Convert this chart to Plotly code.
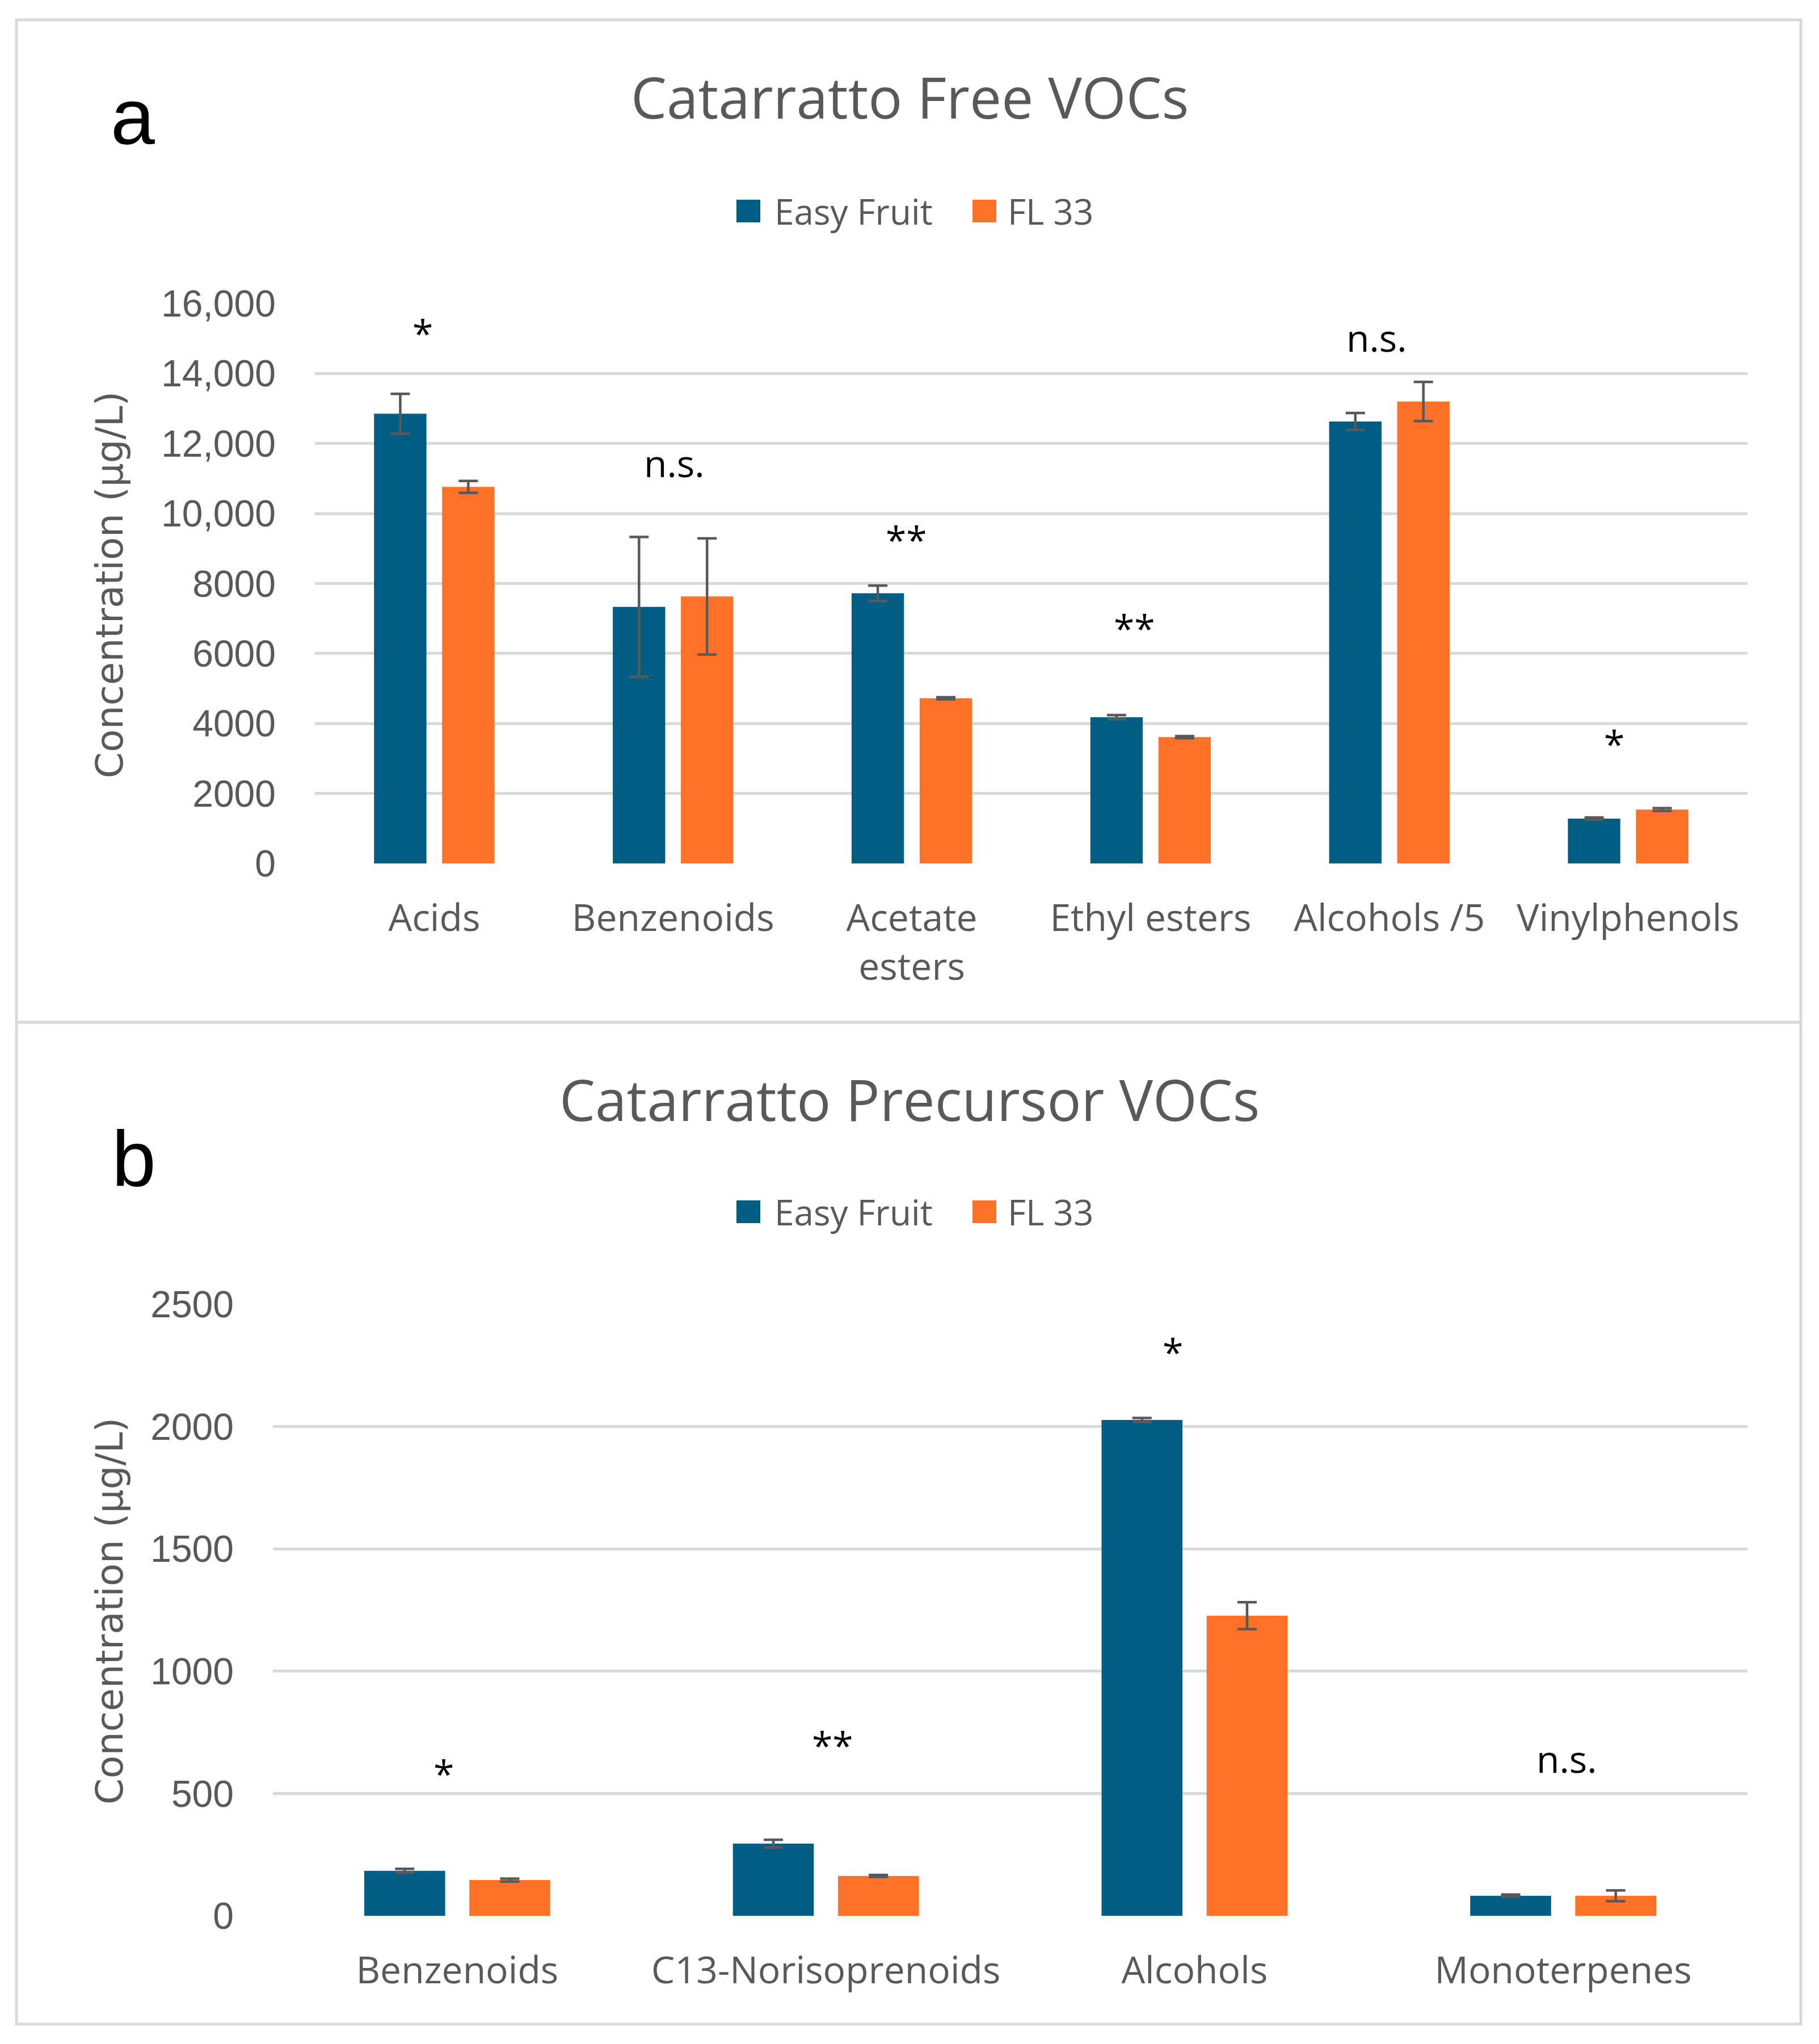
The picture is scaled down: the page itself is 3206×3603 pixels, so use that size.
import plotly.graph_objects as go

# ---------------- data ----------------
free_categories = ["Acids", "Benzenoids", "Acetate esters", "Ethyl esters", "Alcohols /5", "Vinylphenols"]
free_ticktext = ["Acids", "Benzenoids", "Acetate<br>esters", "Ethyl esters", "Alcohols /5", "Vinylphenols"]
free_easy = [12850, 7330, 7720, 4180, 12630, 1280]
free_easy_err = [570, 2000, 220, 60, 240, 35]
free_fl33 = [10760, 7630, 4720, 3610, 13200, 1540]
free_fl33_err = [170, 1660, 30, 30, 560, 40]
free_sig = ["*", "n.s.", "**", "**", "n.s.", "*"]
free_ticks = [0, 2000, 4000, 6000, 8000, 10000, 12000, 14000, 16000]
free_ticklabels = ["0", "2000", "4000", "6000", "8000", "10,000", "12,000", "14,000", "16,000"]

pre_categories = ["Benzenoids", "C13-Norisoprenoids", "Alcohols", "Monoterpenes"]
pre_easy = [184, 295, 2027, 82]
pre_easy_err = [8, 16, 8, 5]
pre_fl33 = [146, 163, 1227, 82]
pre_fl33_err = [6, 4, 55, 22]
pre_sig = ["*", "**", "*", "n.s."]
pre_ticks = [0, 500, 1000, 1500, 2000, 2500]
pre_ticklabels = ["0", "500", "1000", "1500", "2000", "2500"]

series_names = ["Easy Fruit", "FL 33"]

# ---------------- layout helpers ----------------
W, H = 3206, 3603
BLUE = "#005E84"
ORANGE = "#FF7127"
GRAY_TXT = "#595959"
GRID = "#D9D9D9"
ERR = "#595959"

def px(x):
    return x / W

def py(y):
    return 1 - y / H

fig = go.Figure()

err_style = dict(type="data", visible=True, color=ERR, thickness=4.5, width=17)

fig.add_trace(go.Bar(x=free_categories, y=free_easy, name=series_names[0], marker_color=BLUE,
                     error_y=dict(array=free_easy_err, **err_style), xaxis="x", yaxis="y",
                     showlegend=False))
fig.add_trace(go.Bar(x=free_categories, y=free_fl33, name=series_names[1], marker_color=ORANGE,
                     error_y=dict(array=free_fl33_err, **err_style), xaxis="x", yaxis="y",
                     showlegend=False))
fig.add_trace(go.Bar(x=pre_categories, y=pre_easy, name=series_names[0], marker_color=BLUE,
                     error_y=dict(array=pre_easy_err, **err_style), xaxis="x2", yaxis="y2",
                     showlegend=False))
fig.add_trace(go.Bar(x=pre_categories, y=pre_fl33, name=series_names[1], marker_color=ORANGE,
                     error_y=dict(array=pre_fl33_err, **err_style), xaxis="x2", yaxis="y2",
                     showlegend=False))

tickfont_y = dict(family="Liberation Sans, Arial, sans-serif", size=66, color=GRAY_TXT)
tickfont_x = dict(family="Open Sans, sans-serif", size=66, color=GRAY_TXT)

common_y = dict(showgrid=True, gridcolor=GRID, gridwidth=4.5, zeroline=False, showline=False,
                ticks="", tickfont=tickfont_y, ticklabelstandoff=68, fixedrange=True, automargin=False)
common_x = dict(showgrid=False, zeroline=False, showline=False, ticks="", tickfont=tickfont_x,
                ticklabelstandoff=52, type="category", fixedrange=True, automargin=False)

fig.update_layout(
    template="none",
    width=W, height=H,
    margin=dict(l=0, r=0, t=0, b=0, pad=0, autoexpand=False),
    showlegend=False,
    paper_bgcolor="white", plot_bgcolor="white",
    barmode="group", bargap=0.43, bargroupgap=0.23,
    xaxis=dict(domain=[px(555), px(3080)], anchor="y", tickvals=free_categories,
               ticktext=free_ticktext, **common_x),
    yaxis=dict(domain=[py(1522), py(535)], anchor="x", range=[0, 16000],
               tickvals=free_ticks, ticktext=free_ticklabels, **common_y),
    xaxis2=dict(domain=[px(481), px(3080)], anchor="y2", tickvals=pre_categories,
                ticktext=pre_categories, **common_x),
    yaxis2=dict(domain=[py(3377), py(2299)], anchor="x2", range=[0, 2500],
                tickvals=pre_ticks, ticktext=pre_ticklabels, **common_y),
)

shapes = []
annotations = []

# panel borders
shapes.append(dict(type="rect", xref="paper", yref="paper", x0=px(29), x1=px(3174), y0=py(1802), y1=py(35),
                   line=dict(color=GRID, width=5), fillcolor="rgba(0,0,0,0)", layer="below"))
shapes.append(dict(type="rect", xref="paper", yref="paper", x0=px(29), x1=px(3174), y0=py(3568), y1=py(1802),
                   line=dict(color=GRID, width=5), fillcolor="rgba(0,0,0,0)", layer="below"))

title_font = dict(family="Open Sans, sans-serif", size=100, color=GRAY_TXT)
annotations.append(dict(text="Catarratto Free VOCs", xref="paper", yref="paper", x=0.5, y=py(170),
                        xanchor="center", yanchor="middle", showarrow=False, font=title_font))
annotations.append(dict(text="Catarratto Precursor VOCs", xref="paper", yref="paper", x=0.5, y=py(1937),
                        xanchor="center", yanchor="middle", showarrow=False, font=title_font))

panel_font = dict(family="Liberation Sans, Arial, sans-serif", size=140, color="black")
annotations.append(dict(text="a", xref="paper", yref="paper", x=px(234), y=py(205),
                        xanchor="center", yanchor="middle", showarrow=False, font=panel_font))
annotations.append(dict(text="b", xref="paper", yref="paper", x=px(236), y=py(2042),
                        xanchor="center", yanchor="middle", showarrow=False, font=panel_font))

ytitle_font = dict(family="DejaVu Sans, sans-serif", size=66, color=GRAY_TXT)
for yc in (1031, 2840):
    annotations.append(dict(text="Concentration (μg/L)", xref="paper", yref="paper", x=px(193), y=py(yc),
                            xanchor="center", yanchor="middle", textangle=-90, showarrow=False,
                            font=ytitle_font))

# manual legends
leg_font = dict(family="Open Sans, sans-serif", size=62, color=GRAY_TXT)
for yc in (372, 2136):
    for (x0, x1, tx, col, name) in ((1298, 1340, 1363, BLUE, series_names[0]),
                                    (1714, 1756, 1774, ORANGE, series_names[1])):
        shapes.append(dict(type="rect", xref="paper", yref="paper", x0=px(x0), x1=px(x1),
                           y0=py(yc + 20), y1=py(yc - 20), line=dict(width=0), fillcolor=col))
        annotations.append(dict(text=name, xref="paper", yref="paper", x=px(tx), y=py(yc),
                                xanchor="left", yanchor="middle", showarrow=False, font=leg_font))

# significance labels
sig_font = dict(family="Open Sans, sans-serif", size=66, color="black")
sig_shift = {"n.s.": 8, "*": -5, "**": -5}
free_sig_y = [15250, 11330, 9350, 6825, 14910, 3517]
free_sig_dx = [-20, 2, -10, -28, -22, -25]
pre_sig_y = [596, 712, 2320, 626]
pre_sig_dx = [-24, 12, -38, 6]
for cat, lab, yv, dx in zip(free_categories, free_sig, free_sig_y, free_sig_dx):
    annotations.append(dict(text=lab, xref="x", yref="y", x=cat, y=yv, xshift=dx, yshift=sig_shift[lab],
                            xanchor="center", yanchor="middle", showarrow=False, font=sig_font))
for cat, lab, yv, dx in zip(pre_categories, pre_sig, pre_sig_y, pre_sig_dx):
    annotations.append(dict(text=lab, xref="x2", yref="y2", x=cat, y=yv, xshift=dx, yshift=sig_shift[lab],
                            xanchor="center", yanchor="middle", showarrow=False, font=sig_font))

fig.update_layout(shapes=shapes, annotations=annotations)

fig.write_html("out.html", config={"displayModeBar": False},
               post_script="document.body.style.margin='0';")
